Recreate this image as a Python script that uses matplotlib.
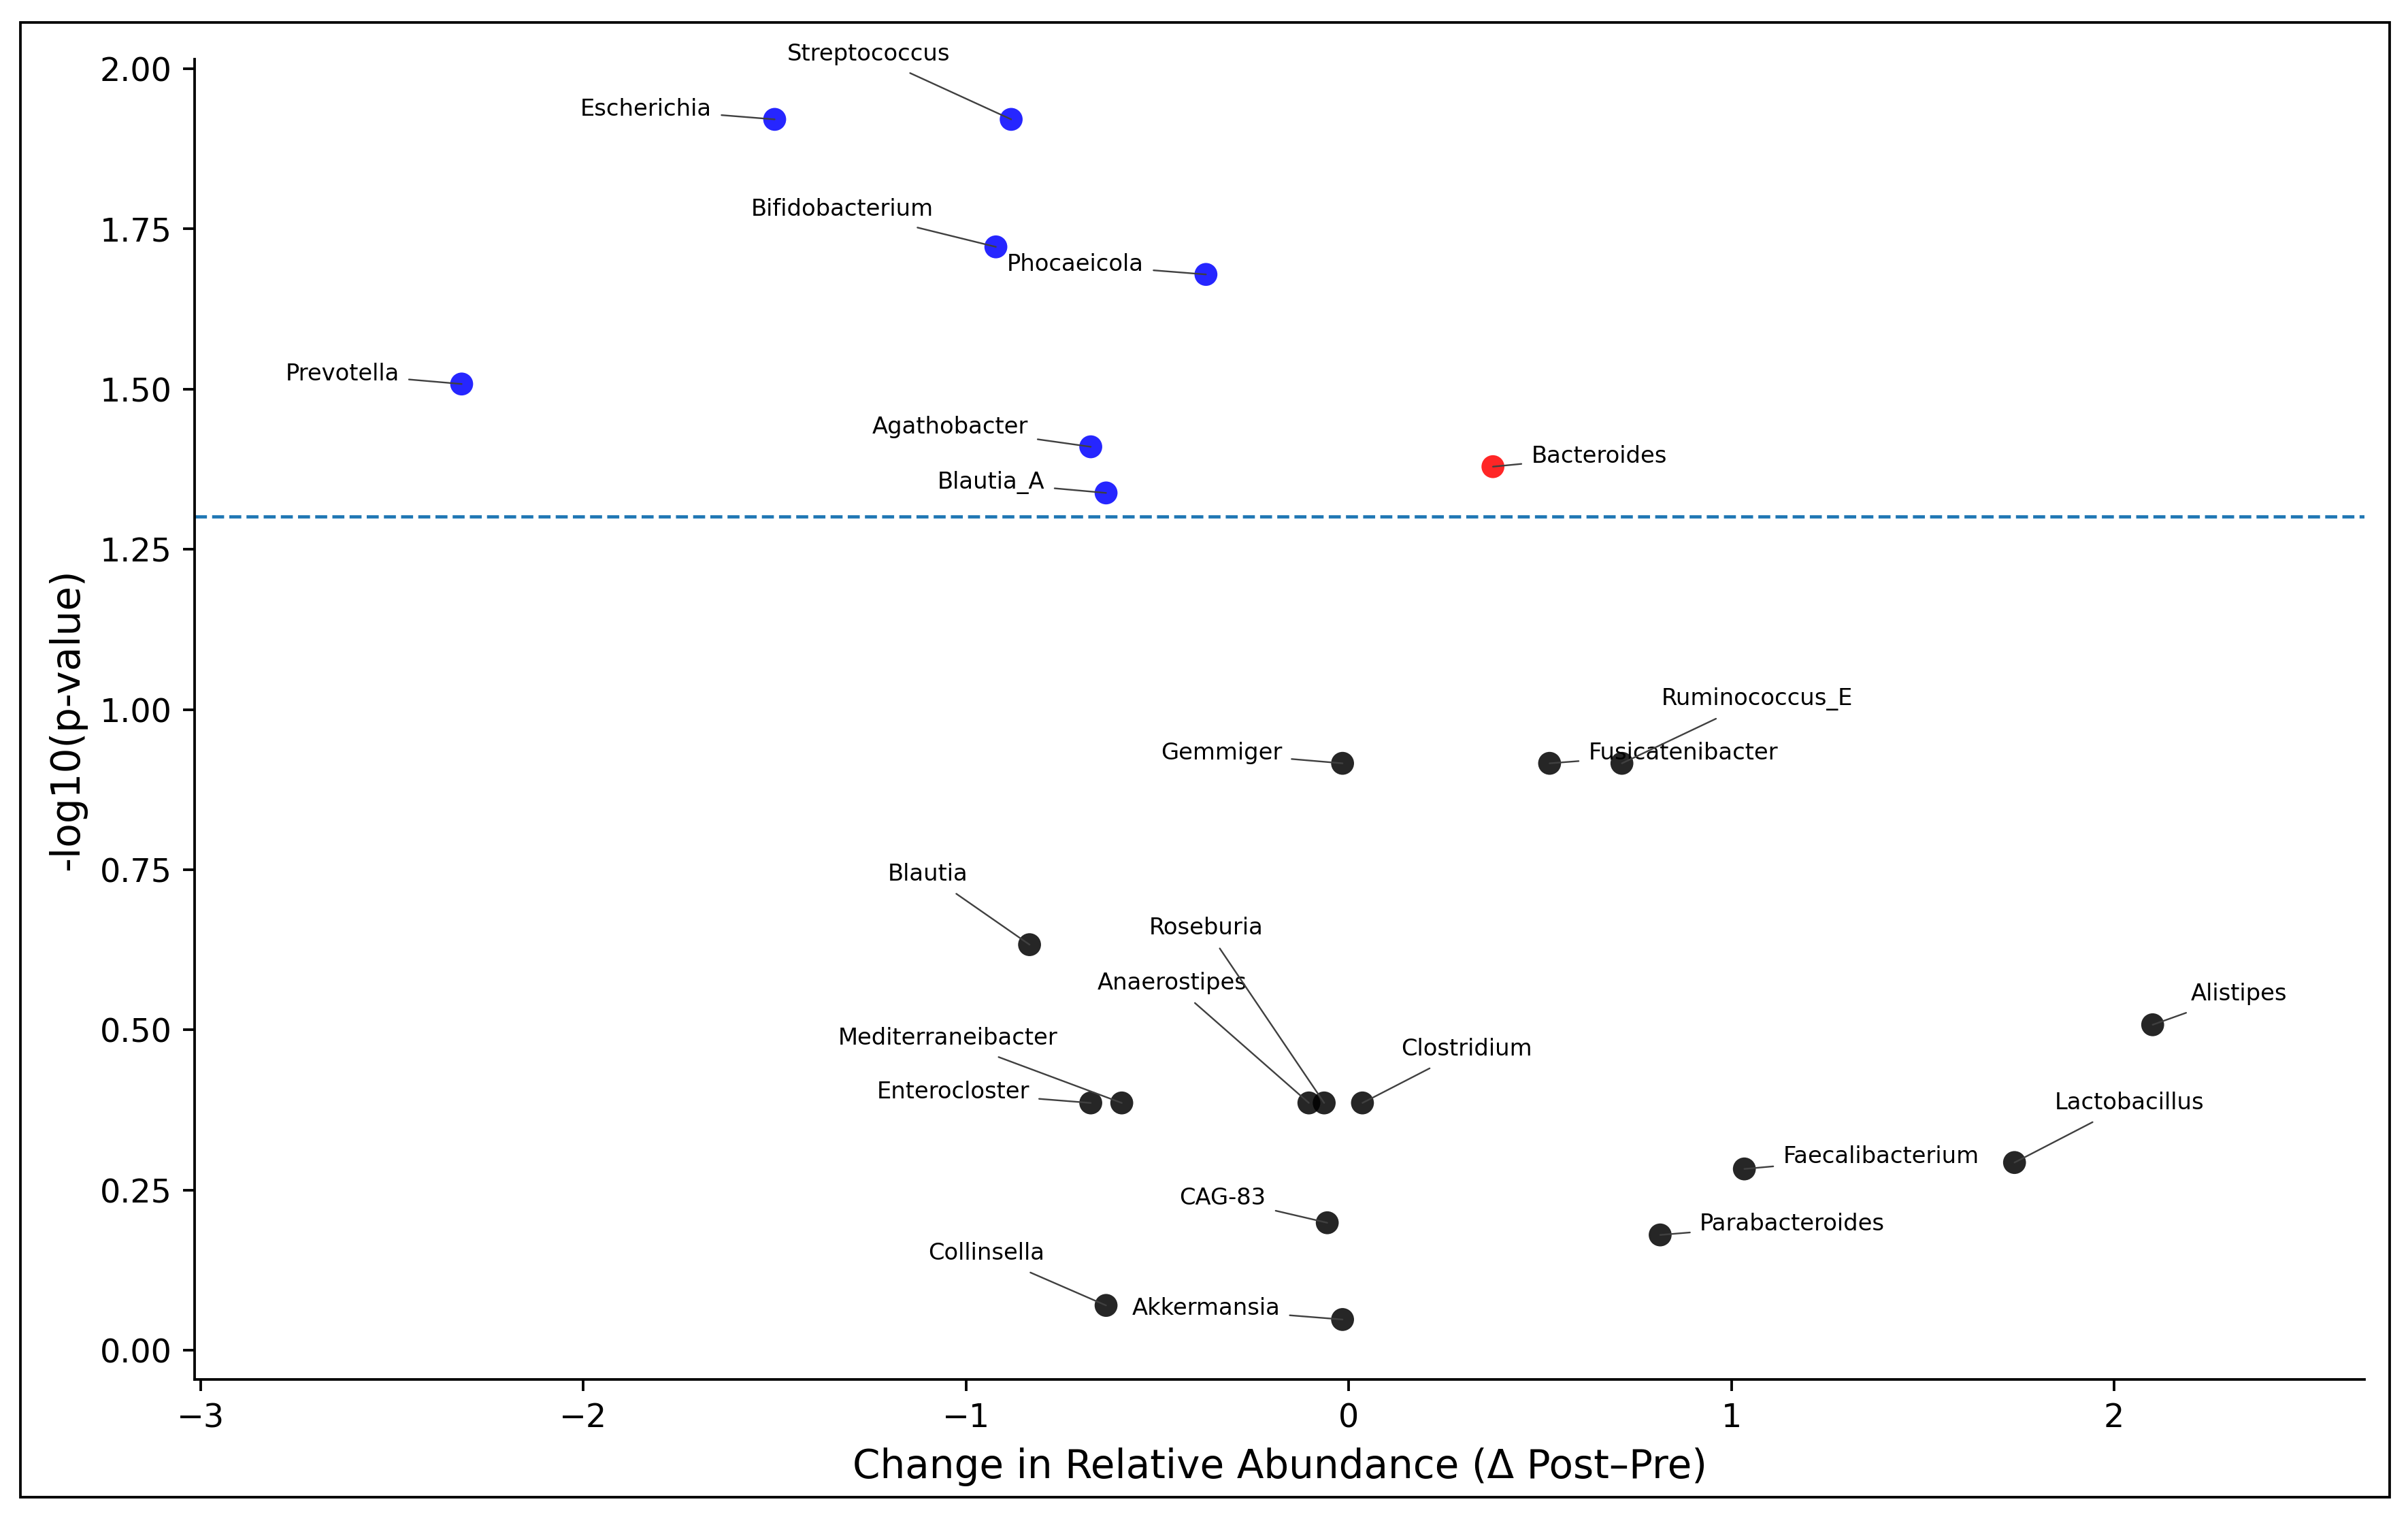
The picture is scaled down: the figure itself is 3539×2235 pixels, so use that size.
import numpy as np
import matplotlib
matplotlib.use('Agg')
import matplotlib.pyplot as plt
from matplotlib.patches import Rectangle

# Genera, change in relative abundance and -log10(p)
genus = ['Escherichia', 'Streptococcus', 'Bifidobacterium', 'Phocaeicola', 'Prevotella',
         'Agathobacter', 'Blautia_A', 'Bacteroides', 'Gemmiger', 'Fusicatenibacter',
         'Ruminococcus_E', 'Blautia', 'Alistipes', 'Enterocloster', 'Mediterraneibacter',
         'Anaerostipes', 'Roseburia', 'Clostridium', 'Lactobacillus', 'Faecalibacterium',
         'CAG-83', 'Parabacteroides', 'Collinsella', 'Akkermansia']
delta = [-1.50, -0.882, -0.922, -0.373, -2.318,
         -0.674, -0.634, 0.377, -0.016, 0.525,
         0.714, -0.834, 2.101, -0.674, -0.593,
         -0.104, -0.064, 0.036, 1.740, 1.034,
         -0.056, 0.814, -0.634, -0.016]
neglogp = [1.921, 1.921, 1.722, 1.679, 1.508,
           1.410, 1.338, 1.379, 0.916, 0.916,
           0.916, 0.633, 0.508, 0.386, 0.386,
           0.386, 0.386, 0.386, 0.293, 0.283,
           0.199, 0.180, 0.070, 0.048]
threshold = -np.log10(0.05)

# where the labels sit (data coords), as placed in the original
label_pos = {
    'Streptococcus': (-1.255, 2.023), 'Escherichia': (-1.836, 1.937),
    'Bifidobacterium': (-1.323, 1.781), 'Phocaeicola': (-0.714, 1.695),
    'Prevotella': (-2.630, 1.524), 'Agathobacter': (-1.042, 1.441),
    'Blautia_A': (-0.934, 1.354), 'Bacteroides': (0.654, 1.395),
    'Ruminococcus_E': (1.067, 1.016), 'Gemmiger': (-0.333, 0.932),
    'Fusicatenibacter': (0.874, 0.932), 'Blautia': (-1.099, 0.743),
    'Roseburia': (-0.373, 0.659), 'Anaerostipes': (-0.461, 0.573),
    'Alistipes': (2.326, 0.556), 'Mediterraneibacter': (-1.047, 0.487),
    'Clostridium': (0.309, 0.470), 'Enterocloster': (-1.034, 0.403),
    'Lactobacillus': (2.041, 0.386), 'Faecalibacterium': (1.391, 0.302),
    'CAG-83': (-0.329, 0.237), 'Parabacteroides': (1.159, 0.197),
    'Collinsella': (-0.946, 0.151), 'Akkermansia': (-0.373, 0.065),
}

x = np.array(delta)
y = np.array(neglogp)
colors = []
for xi, yi in zip(x, y):
    if yi > threshold and xi < 0:
        colors.append('blue')
    elif yi > threshold and xi > 0:
        colors.append('red')
    else:
        colors.append('black')

dpi = 343
fig = plt.figure(figsize=(3539 / dpi, 2235 / dpi), dpi=dpi)
ax = fig.add_axes([0.0808, 0.093, 0.9012, 0.868])

ax.scatter(x, y, c=colors, s=50, alpha=0.85, linewidths=0, zorder=3)
ax.axhline(threshold, linestyle='--', color='#1f77b4', lw=1.0)

for g, xi, yi in zip(genus, x, y):
    tx, ty = label_pos[g]
    ax.annotate(g, xy=(xi, yi), xytext=(tx, ty), textcoords='data',
                fontsize=7.1, ha='center', va='center', annotation_clip=False,
                arrowprops=dict(arrowstyle='-', color='0.25', lw=0.5,
                                shrinkA=1, shrinkB=0), zorder=4)

ax.set_xlim(-3.016, 2.655)
ax.set_ylim(-0.0457, 2.0147)
ax.spines['top'].set_visible(False)
ax.spines['right'].set_visible(False)
ax.set_xlabel('Change in Relative Abundance (\u0394 Post\u2013Pre)', fontsize=12.2)
ax.set_ylabel('-log10(p-value)', fontsize=12.2)
ax.tick_params(labelsize=10)

# screenshot frame around the whole figure
fig.patches.append(Rectangle((0.0085, 0.0157), 0.9839, 0.9695, transform=fig.transFigure,
                             fill=False, edgecolor='black', lw=0.8))

plt.savefig('out.png', dpi=dpi)
